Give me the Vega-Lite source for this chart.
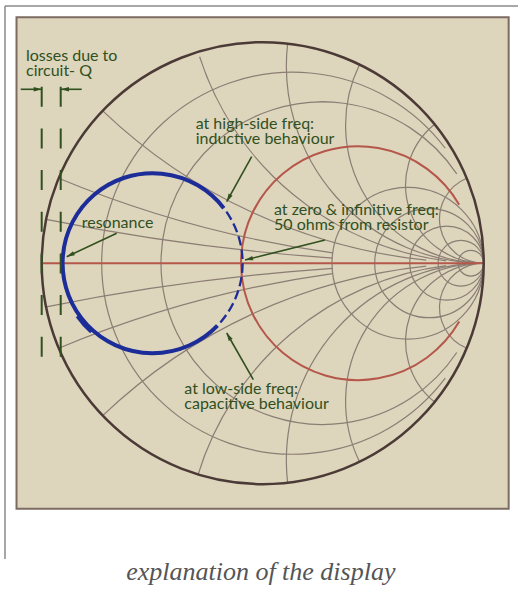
{
  "$schema": "https://vega.github.io/schema/vega-lite/v6.json",
  "width": 518,
  "height": 595,
  "autosize": "none",
  "padding": 0,
  "background": "#ffffff",
  "config": {"view": {"stroke": null}},
  "datasets": {
    "frame": [
      {"x": -1.1661, "y": 1.1638, "x2": 1.2, "y2": 1.1638},
      {"x": -1.1661, "y": 1.1638, "x2": -1.1661, "y2": -1.3385}
    ],
    "box": [{"x": -1.114, "y": 1.1127, "x2": 1.113, "y2": -1.1109}],
    "grid": [
      {"x": 0.1357, "y": 0, "r": 0.8643, "t1": 2.2166, "t2": 7.2082},
      {"x": 0.2699, "y": 0, "r": 0.7301, "t1": 2.1572, "t2": 7.2676},
      {"x": 0.6568, "y": 0, "r": 0.3432, "t1": 0, "t2": 6.2832},
      {"x": 0.7534, "y": 0, "r": 0.2466, "t1": 0, "t2": 6.2832},
      {"x": 0.8326, "y": 0, "r": 0.1674, "t1": 0, "t2": 6.2832},
      {"x": 0.8967, "y": 0, "r": 0.1033, "t1": 0, "t2": 6.2832},
      {"x": 0.9419, "y": 0, "r": 0.0581, "t1": 0, "t2": 6.2832},
      {"x": 1, "y": 10, "r": 10, "t1": 3.21, "t2": 3.3409},
      {"x": 1, "y": 5, "r": 5, "t1": 3.2788, "t2": 3.5364},
      {"x": 1, "y": 2.5, "r": 2.5, "t1": 3.2458, "t2": 3.9025},
      {"x": 1, "y": 1.3514, "r": 1.3514, "t1": 3.2678, "t2": 4.3985},
      {"x": 1, "y": 0.8929, "r": 0.8929, "t1": 3.1416, "t2": 4.8258},
      {"x": 1, "y": 0.625, "r": 0.625, "t1": 3.1416, "t2": 5.1661},
      {"x": 1, "y": 0.3534, "r": 0.3534, "t1": 3.1416, "t2": 5.6039},
      {"x": 1, "y": 0.2, "r": 0.2, "t1": 3.1416, "t2": 5.8884},
      {"x": 1, "y": -10, "r": 10, "t1": 6.0839, "t2": 6.2148},
      {"x": 1, "y": -5, "r": 5, "t1": 5.8884, "t2": 6.146},
      {"x": 1, "y": -2.5, "r": 2.5, "t1": 5.5222, "t2": 6.179},
      {"x": 1, "y": -1.3514, "r": 1.3514, "t1": 5.0088, "t2": 6.157},
      {"x": 1, "y": -0.8929, "r": 0.8929, "t1": 4.599, "t2": 6.2832},
      {"x": 1, "y": -0.625, "r": 0.625, "t1": 4.2586, "t2": 6.2832},
      {"x": 1, "y": -0.3534, "r": 0.3534, "t1": 3.8209, "t2": 6.2832},
      {"x": 1, "y": -0.2, "r": 0.2, "t1": 3.5364, "t2": 6.2832}
    ],
    "redArc": [{"x": 0.431, "y": 0, "r": 0.529, "t1": 2.094, "t2": 7.33}],
    "axisLine": [{"x": -1, "y": 0, "x2": 1, "y2": 0}],
    "outer": [{"x": 0, "y": 0, "r": 1, "t1": 0, "t2": 6.2832}],
    "blueSolid": [
      {"x": -0.4982, "y": 0, "r": 0.4072, "t1": 2.337, "t2": 7.196},
      {"x": -0.4982, "y": 0, "r": 0.4155, "t1": 3.87, "t2": 4.1}
    ],
    "blueDash": [
      {"x": -0.4982, "y": 0, "r": 0.4072, "t1": 0.961, "t2": 1.0657},
      {"x": -0.4982, "y": 0, "r": 0.4072, "t1": 1.1139, "t2": 1.2186},
      {"x": -0.4982, "y": 0, "r": 0.4072, "t1": 1.2668, "t2": 1.3715},
      {"x": -0.4982, "y": 0, "r": 0.4072, "t1": 1.4197, "t2": 1.5244},
      {"x": -0.4982, "y": 0, "r": 0.4072, "t1": 1.5725, "t2": 1.6773},
      {"x": -0.4982, "y": 0, "r": 0.4072, "t1": 1.7254, "t2": 1.8302},
      {"x": -0.4982, "y": 0, "r": 0.4072, "t1": 1.8783, "t2": 1.983},
      {"x": -0.4982, "y": 0, "r": 0.4072, "t1": 2.0312, "t2": 2.136},
      {"x": -0.4982, "y": 0, "r": 0.4072, "t1": 2.1841, "t2": 2.2888}
    ],
    "qLines": [
      {"x": -1.0, "y": 0.7986, "x2": -1.0, "y2": -0.4231},
      {"x": -0.914, "y": 0.7986, "x2": -0.914, "y2": -0.4231}
    ],
    "arrows": [
      {"x": -0.0498, "y": 0.4819, "x2": -0.1629, "y2": 0.2783},
      {"x": -0.6606, "y": 0.1353, "x2": -0.8869, "y2": 0.0294},
      {"x": 0.2819, "y": 0.105, "x2": -0.0801, "y2": 0.0145},
      {"x": -0.0425, "y": -0.5271, "x2": -0.1629, "y2": -0.3158},
      {"x": -1.095, "y": 0.7869, "x2": -1.0, "y2": 0.7869},
      {"x": -0.819, "y": 0.7869, "x2": -0.9127, "y2": 0.7869}
    ],
    "heads": [
      {"x": -0.1629, "y": 0.2783, "dir": 209.1},
      {"x": -0.8869, "y": 0.0294, "dir": 244.9},
      {"x": -0.0801, "y": 0.0145, "dir": 256},
      {"x": -0.1629, "y": -0.3158, "dir": 330.3},
      {"x": -1.0, "y": 0.7869, "dir": 90},
      {"x": -0.9127, "y": 0.7869, "dir": 270}
    ],
    "labels": [
      {"x": -1.071, "y": 0.9149, "label": "losses due to\ncircuit- Q"},
      {"x": -0.3032, "y": 0.6072, "label": "at high-side freq:\ninductive behaviour"},
      {"x": -0.819, "y": 0.1606, "label": "resonance"},
      {"x": 0.0511, "y": 0.2181, "label": "at zero & infinitive freq:\n50 ohms from resistor"},
      {"x": -0.3548, "y": -0.5919, "label": "at low-side freq:\ncapacitive behaviour"}
    ],
    "caption": [{"x": -0.0086, "y": -1.4335, "label": "explanation of the display"}]
  },
  "encoding": {
    "x": {"field": "x", "type": "quantitative", "scale": {"domain": [-1.18869, 1.15521], "nice": false, "zero": false}, "axis": null},
    "y": {"field": "y", "type": "quantitative", "scale": {"domain": [-1.50136, 1.19095], "nice": false, "zero": false}, "axis": null}
  },
  "layer": [
    {
      "data": {"name": "frame"},
      "mark": {"type": "rule", "color": "#8a8a8a", "strokeWidth": 1.5},
      "encoding": {"x2": {"field": "x2"}, "y2": {"field": "y2"}}
    },
    {
      "data": {"name": "box"},
      "mark": {"type": "rect", "fill": "#ddd5bc", "stroke": "#7b6b61", "strokeWidth": 2},
      "encoding": {"x2": {"field": "x2"}, "y2": {"field": "y2"}}
    },
    {
      "data": {"name": "grid"},
      "mark": {"type": "arc", "filled": false, "color": "#8c7d74", "strokeWidth": 1.2},
      "encoding": {
        "theta": {"field": "t1", "type": "quantitative", "scale": null, "stack": null},
        "theta2": {"field": "t2"},
        "radius": {"field": "r", "type": "quantitative", "scale": {"type": "linear", "domain": [0, 1], "range": [0, 221], "zero": true}},
        "radius2": {"field": "r"}
      }
    },
    {
      "data": {"name": "redArc"},
      "mark": {"type": "arc", "filled": false, "color": "#b5574b", "strokeWidth": 2},
      "encoding": {
        "theta": {"field": "t1", "type": "quantitative", "scale": null, "stack": null},
        "theta2": {"field": "t2"},
        "radius": {"field": "r", "type": "quantitative", "scale": {"type": "linear", "domain": [0, 1], "range": [0, 221], "zero": true}},
        "radius2": {"field": "r"}
      }
    },
    {
      "data": {"name": "axisLine"},
      "mark": {"type": "rule", "color": "#b5574b", "strokeWidth": 2},
      "encoding": {"x2": {"field": "x2"}, "y2": {"field": "y2"}}
    },
    {
      "data": {"name": "outer"},
      "mark": {"type": "arc", "filled": false, "color": "#4b3a36", "strokeWidth": 2.5},
      "encoding": {
        "theta": {"field": "t1", "type": "quantitative", "scale": null, "stack": null},
        "theta2": {"field": "t2"},
        "radius": {"field": "r", "type": "quantitative", "scale": {"type": "linear", "domain": [0, 1], "range": [0, 221], "zero": true}},
        "radius2": {"field": "r"}
      }
    },
    {
      "data": {"name": "blueSolid"},
      "mark": {"type": "arc", "filled": false, "color": "#1c2c98", "strokeWidth": 4},
      "encoding": {
        "theta": {"field": "t1", "type": "quantitative", "scale": null, "stack": null},
        "theta2": {"field": "t2"},
        "radius": {"field": "r", "type": "quantitative", "scale": {"type": "linear", "domain": [0, 1], "range": [0, 221], "zero": true}},
        "radius2": {"field": "r"}
      }
    },
    {
      "data": {"name": "blueDash"},
      "mark": {"type": "arc", "filled": false, "color": "#1c2c98", "strokeWidth": 2.3},
      "encoding": {
        "theta": {"field": "t1", "type": "quantitative", "scale": null, "stack": null},
        "theta2": {"field": "t2"},
        "radius": {"field": "r", "type": "quantitative", "scale": {"type": "linear", "domain": [0, 1], "range": [0, 221], "zero": true}},
        "radius2": {"field": "r"}
      }
    },
    {
      "data": {"name": "qLines"},
      "mark": {"type": "rule", "color": "#30501e", "strokeWidth": 2, "strokeDash": [20, 21.67]},
      "encoding": {"x2": {"field": "x2"}, "y2": {"field": "y2"}}
    },
    {
      "data": {"name": "arrows"},
      "mark": {"type": "rule", "color": "#30501e", "strokeWidth": 1.6},
      "encoding": {"x2": {"field": "x2"}, "y2": {"field": "y2"}}
    },
    {
      "data": {"name": "heads"},
      "mark": {"type": "point", "shape": "M0,0 L0.28,1 L-0.28,1 Z", "filled": true, "color": "#30501e", "opacity": 1, "size": 256, "strokeWidth": 0},
      "encoding": {"angle": {"field": "dir", "type": "quantitative", "scale": {"domain": [0, 360], "range": [0, 360]}}}
    },
    {
      "data": {"name": "labels"},
      "mark": {"type": "text", "align": "left", "baseline": "alphabetic", "lineBreak": "\n", "lineHeight": 15, "font": "Lato", "fontSize": 16, "color": "#30501e"},
      "encoding": {"text": {"field": "label"}}
    },
    {
      "data": {"name": "caption"},
      "mark": {"type": "text", "align": "center", "baseline": "alphabetic", "font": "Liberation Serif", "fontStyle": "italic", "fontSize": 26, "color": "#555555"},
      "encoding": {"text": {"field": "label"}}
    }
  ]
}
